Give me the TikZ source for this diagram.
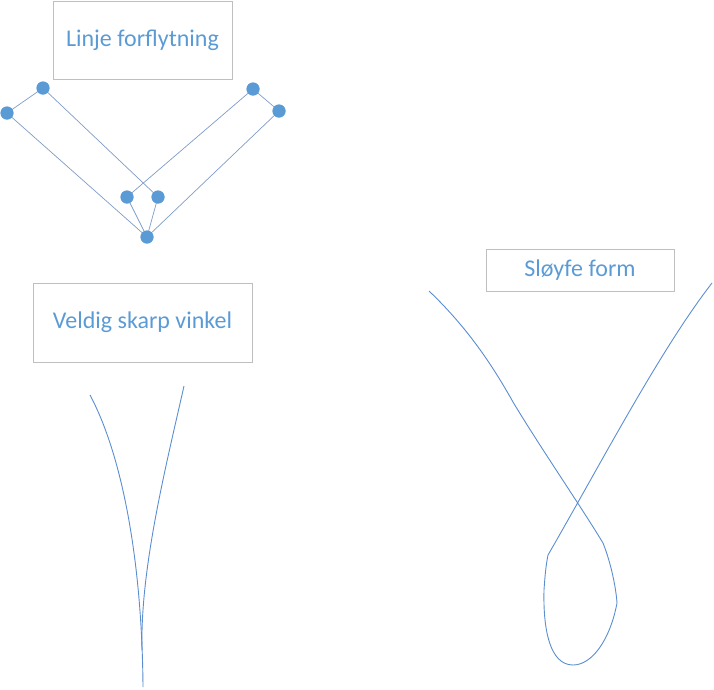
\documentclass[tikz,border=0pt]{standalone}
\usepackage{fontspec}
\setmainfont{Carlito}
\definecolor{txtblue}{HTML}{5B9BD5}
\definecolor{boxgray}{HTML}{BFBFBF}
\definecolor{lineblue}{HTML}{7F9CC8}
\definecolor{curveblue}{HTML}{5B8ED0}
\begin{document}
\begin{tikzpicture}[x=1pt,y=-1pt,
  label box/.style={draw=boxgray,line width=0.8pt,text=txtblue,font=\fontsize{24}{28}\selectfont,inner sep=0pt},
  dot/.style={circle,fill=txtblue,inner sep=0pt,minimum size=13pt},
  link/.style={draw=lineblue,line width=0.7pt},
  curve/.style={draw=curveblue,line width=0.9pt}]
\useasboundingbox (0,0) rectangle (714,689);
% boxes
\node[label box,minimum width=179pt,minimum height=78pt] (t1) at (142.5,40) {Linje forflytning};
\node[label box,minimum width=219pt,minimum height=79pt] (t2) at (142.5,322.5) {Veldig skarp vinkel};
\node[label box,minimum width=188pt,minimum height=42pt] (t3) at (580,270) {Sløyfe form};
% top graph
\node[dot] (a) at (43,88) {};
\node[dot] (b) at (7,113) {};
\node[dot] (c) at (253,89) {};
\node[dot] (d) at (279,111) {};
\node[dot] (e) at (127,197) {};
\node[dot] (f) at (158,197) {};
\node[dot] (g) at (147,237) {};
\path[link] (a.center) -- (b.center);
\path[link] (b.center) -- (g.center);
\path[link] (a.center) -- (f.center);
\path[link] (c.center) -- (e.center);
\path[link] (c.center) -- (d.center);
\path[link] (d.center) -- (g.center);
\path[link] (e.center) -- (g.center);
\path[link] (f.center) -- (g.center);
\node[dot] at (a) {};\node[dot] at (b) {};\node[dot] at (c) {};\node[dot] at (d) {};
\node[dot] at (e) {};\node[dot] at (f) {};\node[dot] at (g) {};
% sharp angle
\path[curve] (90,395) .. controls (122,455) and (142,560) .. (143,687);
\path[curve] (184,386) .. controls (165,470) and (140,570) .. (142,650);
% loop
\path[curve] (429,291) .. controls (470,330) and (495,370) .. (513,402)
  .. controls (540,447) and (580,505) .. (603,543)
  .. controls (611,563) and (616,588) .. (617,603)
  .. controls (610,640) and (592,665) .. (573,665)
  .. controls (550,665) and (543,630) .. (544,590)
  .. controls (545,575) and (546,565) .. (548,555)
  .. controls (600,465) and (660,350) .. (712,283);
\end{tikzpicture}
\end{document}
